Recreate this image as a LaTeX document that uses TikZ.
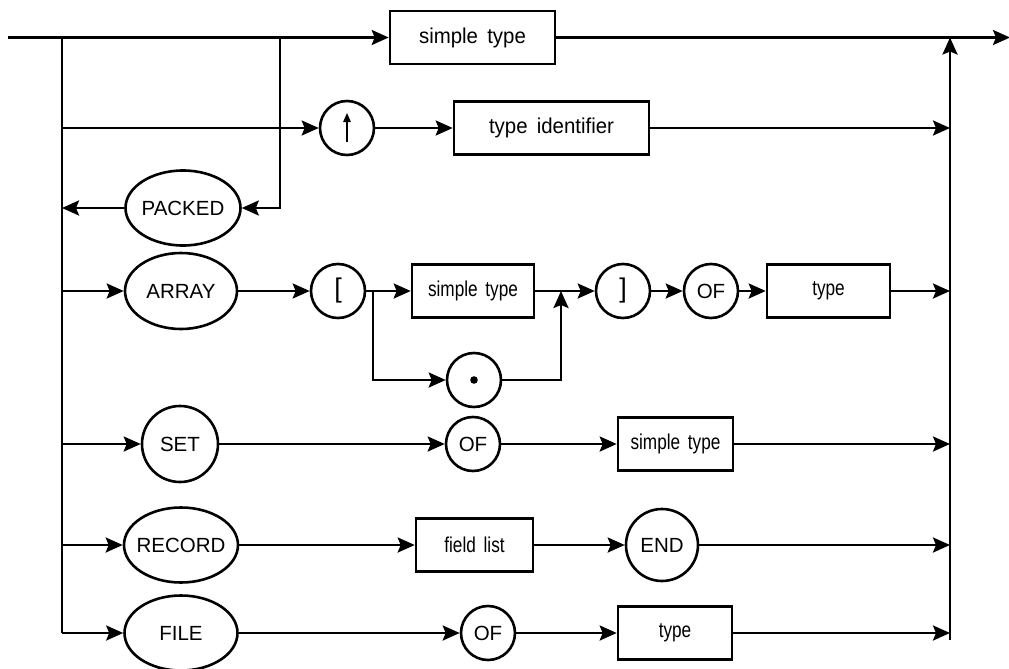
\documentclass[tikz,border=0pt]{standalone}
\usepackage{fontspec}
\usepackage{graphicx}
\setmainfont{Liberation Sans}
\usetikzlibrary{arrows.meta,shapes.geometric}
\newcommand\kwf{\fontsize{20.5}{24}\selectfont}
\newcommand\bxf{\fontsize{21.5}{24}\selectfont}
\newcommand\brf{\fontsize{27}{30}\selectfont}
\newcommand\cnd[1]{\scalebox{0.8}[1]{#1}}
\newcommand\wide[1]{\scalebox{0.95}[1]{#1}}
\newcommand\gap{\hspace{0.45em}}
\newcommand\nw[1]{\makebox[0pt][c]{#1}}
\begin{document}
\begin{tikzpicture}[x=1pt,y=-1pt,
  line/.style={line width=2.6pt},
  arr/.style={line, -{Stealth[length=17pt,width=15pt,inset=3pt]}},
  kw/.style={ellipse, draw, line width=2.6pt, inner sep=0pt, font=\kwf},
  circ/.style={circle, draw, line width=2.6pt, minimum size=54pt, inner sep=0pt, font=\kwf},
  bigcirc/.style={circ, minimum size=#1},
  tbox/.style={rectangle, draw, line width=2.6pt, inner sep=0pt, minimum height=53pt, font=\bxf},
]
\useasboundingbox (0,0) rectangle (1009,669);

% ---- nodes ----
\node[tbox, minimum width=165pt] (st)  at (472.5,37.5) {\wide{simple\gap type}};
\node[circ] (up) at (347,128) {};
\node[tbox, minimum width=195pt] (tid) at (551.5,128) {\wide{type\gap identifier}};
\node[kw, minimum width=115pt, minimum height=75pt] (packed) at (183,208) {\nw{PACKED}};

\node[kw, minimum width=112pt, minimum height=76pt] (array) at (181,291) {\nw{ARRAY}};
\node[circ, font=\brf] (lb) at (338,291) {\raisebox{-1.5pt}{[}};
\node[tbox, minimum width=122pt] (st2) at (473,291) {\cnd{simple\gap type}};
\node[circ] (dot) at (474,380) {};
\node[circ, font=\brf] (rb) at (623,291) {\raisebox{-1.5pt}{]}};
\node[circ] (of1) at (711,291) {OF};
\node[tbox, minimum width=123pt] (ty1) at (828.5,291) {\cnd{type}};

\node[bigcirc=76pt] (set) at (180,444) {SET};
\node[circ] (of2) at (473,444) {OF};
\node[tbox, minimum width=115pt] (st3) at (675.5,444) {\cnd{simple\gap type}};

\node[kw, minimum width=114pt, minimum height=75pt] (record) at (181,545) {\nw{RECORD}};
\node[tbox, minimum width=117pt] (fl) at (474.5,545) {\cnd{field\gap list}};
\node[bigcirc=72pt] (end) at (662,545) {END};

\node[kw, minimum width=113pt, minimum height=75pt] (file) at (181,633) {\nw{FILE}};
\node[circ] (of3) at (488,633) {OF};
\node[tbox, minimum width=114pt] (ty2) at (675,633) {\cnd{type}};

% symbols inside the small circles
\draw[line width=1.3pt, -{Triangle[length=9pt,width=7.5pt]}]
  ([yshift=-14pt]up.center) -- ([yshift=15pt]up.center);
\fill (dot.center) circle (3.8pt);

% ---- junction points ----
\coordinate (start) at (8,37.5);
\coordinate (finish) at (1010,37.5);
\coordinate (J0) at (62,37.5);
\coordinate (J1) at (280,37.5);
\coordinate (L1) at (62,128);
\coordinate (L2) at (62,208);
\coordinate (L3) at (62,291);
\coordinate (L4) at (62,444);
\coordinate (L5) at (62,545);
\coordinate (L6) at (62,633);
\coordinate (B1) at (373,291);
\coordinate (B2) at (561,291);
\coordinate (Rtop) at (950,37.5);
\coordinate (Rbot) at (950,640);
\coordinate (R1) at (950,128);
\coordinate (R3) at (950,291);
\coordinate (R4) at (950,444);
\coordinate (R5) at (950,545);
\coordinate (R6) at (950,633);

% ---- connectors ----
% main line
\draw[arr] (start) -- (st);
\draw[arr] (st) -- (finish);
% left collecting line and right return line
\draw[line] (J0) -- (L6);
\draw[arr] (Rbot) -- (Rtop);

% pointer type
\draw[arr] (L1) -- (up);
\draw[arr] (up) -- (tid);
\draw[arr] (tid) -- (R1);

% PACKED loop
\draw[arr] (J1) |- (packed);
\draw[arr] (packed) -- (L2);

% ARRAY
\draw[arr] (L3) -- (array);
\draw[arr] (array) -- (lb);
\draw[line] (lb) -- (B1);
\draw[arr] (B1) -- (st2);
\draw[arr] (B1) |- (dot);
\draw[arr] (dot) -| (B2);
\draw[arr] (st2) -- (rb);
\draw[arr] (rb) -- (of1);
\draw[arr] (of1) -- (ty1);
\draw[arr] (ty1) -- (R3);

% SET
\draw[arr] (L4) -- (set);
\draw[arr] (set) -- (of2);
\draw[arr] (of2) -- (st3);
\draw[arr] (st3) -- (R4);

% RECORD
\draw[arr] (L5) -- (record);
\draw[arr] (record) -- (fl);
\draw[arr] (fl) -- (end);
\draw[arr] (end) -- (R5);

% FILE
\draw[arr] (L6) -- (file);
\draw[arr] (file) -- (of3);
\draw[arr] (of3) -- (ty2);
\draw[arr] (ty2) -- (R6);
\end{tikzpicture}
\end{document}
